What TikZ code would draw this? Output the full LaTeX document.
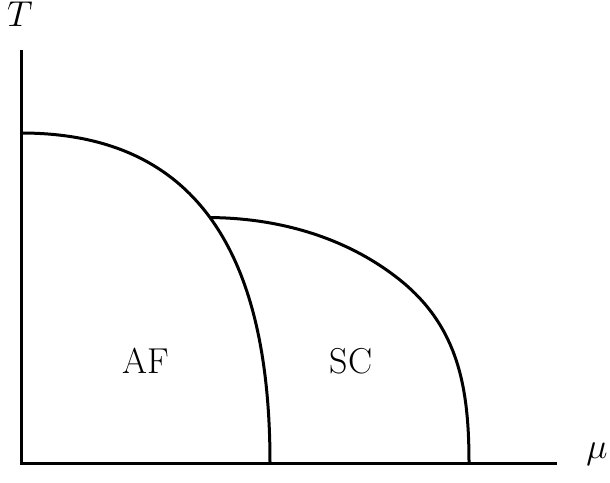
\RequirePackage{fix-cm}
\documentclass[tikz,border=0pt]{standalone}
\usepackage{fontspec}
\begin{document}
\begin{tikzpicture}[x=0.5pt,y=-0.5pt,
  axisline/.style={line width=1.5pt},
  curveline/.style={line width=1.5pt},
  lbl/.style={anchor=base,inner sep=0pt,font=\fontsize{18}{22}\selectfont}]
\useasboundingbox (0,0) rectangle (610,482);
\coordinate (ytop) at (21,50);
\coordinate (o) at (21,463);
\coordinate (xend) at (557,463);
\draw[axisline] (ytop) -- (o) -- (xend);
% AF boundary
\coordinate (afs) at (21,133);
\coordinate (afe) at (270,463);
\draw[curveline] (afs) .. controls (193,133) and (270,248.5) .. (afe)
  coordinate[pos=0.5] (cross);
% SC boundary
\coordinate (scm) at (400,280);
\coordinate (sce) at (469,463);
\draw[curveline] (cross) .. controls (279,218) and (347,237.5) .. (scm)
  .. controls (458.5,327) and (469,388) .. (sce);
\node[lbl] (tlab) at (20,26) {$T$};
\node[lbl] (mulab) at (597,458) {$\mu$};
\node[lbl] (af) at (145.5,373) {AF};
\node[lbl] (sc) at (351,373) {SC};
\end{tikzpicture}
\end{document}
